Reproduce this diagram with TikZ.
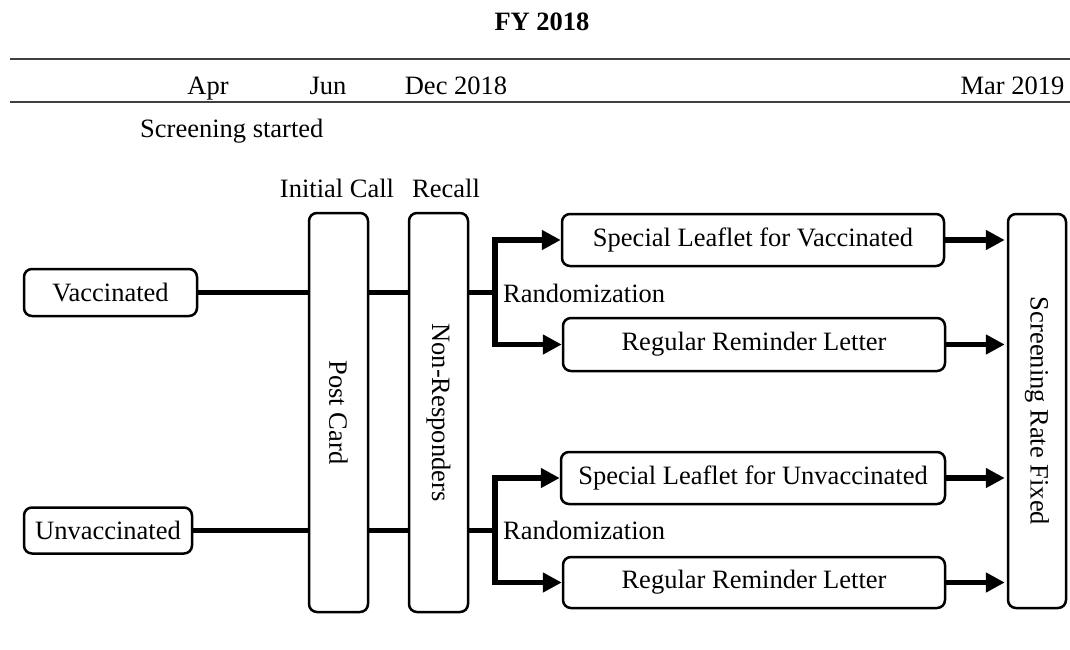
\documentclass[tikz,border=0pt]{standalone}
\usepackage{fontspec}
\setmainfont{Liberation Serif}
\usetikzlibrary{arrows.meta}
\begin{document}
\begin{tikzpicture}[x=1pt,y=-1pt,
  every node/.style={font=\fontsize{26.5}{31}\selectfont, inner sep=0pt},
  box/.style={draw, line width=2.5pt, rounded corners=8pt},
  conn/.style={line width=5.5pt},
  arr/.style={line width=5.5pt, -{Triangle[length=19pt,width=19pt]}},
  tl/.style={line width=1.6pt, draw=black!75},
  lbl/.style={anchor=base}]
\useasboundingbox (0,0) rectangle (1070,650);

% title and timeline
\node[lbl] (fy) at (542,31) {\bfseries FY 2018};
\coordinate (l1a) at (10,59);
\coordinate (l1b) at (1070,59);
\coordinate (l2a) at (10,102);
\coordinate (l2b) at (1070,102);
\draw[tl] (l1a) -- (l1b);
\draw[tl] (l2a) -- (l2b);
\node[lbl] (apr) at (208,95) {Apr};
\node[lbl] (jun) at (328,95) {Jun};
\node[lbl] (dec) at (456,95) {Dec 2018};
\node[lbl] (mar) at (1012.5,95) {Mar 2019};
\node[anchor=base west] (started) at (140,137) {Screening started};
\node[lbl] (initial) at (337,197) {Initial Call};
\node[lbl] (recall) at (446,197) {Recall};

% boxes
\node[box, minimum width=173pt, minimum height=47pt] (vac) at (110.5,292.5) {Vaccinated};
\node[box, minimum width=168pt, minimum height=46pt] (unv) at (108,530.5) {Unvaccinated};
\node[box, minimum width=59pt, minimum height=399pt] (pc) at (338.5,412.5) {};
\node[rotate=-90] (pctext) at (pc) {Post Card};
\node[box, minimum width=59pt, minimum height=399pt] (nr) at (438.5,412.5) {};
\node[rotate=-90] (nrtext) at (nr) {Non-Responders};
\node[box, minimum width=382pt, minimum height=52pt] (sv) at (753,240) {Special Leaflet for Vaccinated};
\node[box, minimum width=382pt, minimum height=53pt] (rr1) at (754,344.5) {Regular Reminder Letter};
\node[box, minimum width=384pt, minimum height=52pt] (su) at (753,478) {Special Leaflet for Unvaccinated};
\node[box, minimum width=382pt, minimum height=51pt] (rr2) at (754,582.5) {Regular Reminder Letter};
\node[box, minimum width=58pt, minimum height=394pt] (sr) at (1037,411) {};
\node[rotate=-90] (srtext) at (sr) {Screening Rate Fixed};

% vaccinated branch
\draw[conn] (vac.east) -- (vac.east -| pc.west);
\draw[conn] (pc.east |- vac) -- (nr.west |- vac);
\coordinate (b1) at (495,292.5);
\draw[conn] (nr.east |- vac) -- (b1);
\draw[arr] (b1) |- (sv.west);
\draw[arr] (b1) |- (rr1.west);
\node[anchor=west] (rand1) at (503,293) {Randomization};

% unvaccinated branch
\draw[conn] (unv.east) -- (unv.east -| pc.west);
\draw[conn] (pc.east |- unv) -- (nr.west |- unv);
\coordinate (b2) at (495,530.5);
\draw[conn] (nr.east |- unv) -- (b2);
\draw[arr] (b2) |- (su.west);
\draw[arr] (b2) |- (rr2.west);
\node[anchor=west] (rand2) at (503,530) {Randomization};

% to screening rate
\draw[arr, shorten >=2pt] (sv.east) -- (sv.east -| sr.west);
\draw[arr, shorten >=2pt] (rr1.east) -- (rr1.east -| sr.west);
\draw[arr, shorten >=2pt] (su.east) -- (su.east -| sr.west);
\draw[arr, shorten >=2pt] (rr2.east) -- (rr2.east -| sr.west);
\end{tikzpicture}
\end{document}
